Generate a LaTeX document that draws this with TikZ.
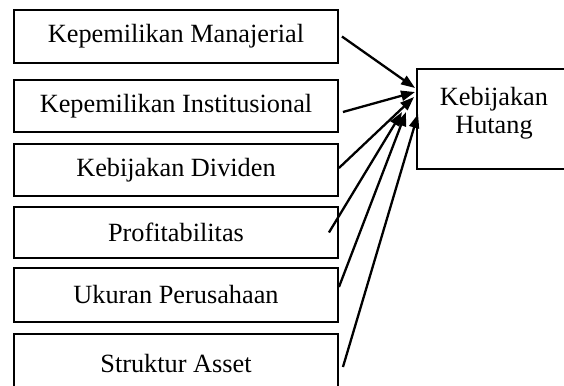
\documentclass[tikz,border=0pt]{standalone}
\usepackage{fontspec}
\setmainfont{Liberation Serif}
\usetikzlibrary{arrows.meta,calc}
\begin{document}
\begin{tikzpicture}[x=1pt,y=1pt,
  box/.style={draw,line width=1.9pt,rectangle,minimum width=324pt,inner sep=0pt,font=\fontsize{26.3}{28}\selectfont},
  conn/.style={line width=2.3pt,-{Triangle[length=14pt,width=10pt]}},
  lbl/.style={font=\fontsize{26.3}{28}\selectfont,align=center,inner sep=0pt}]
\useasboundingbox (0,0) rectangle (564,385);
% left boxes (image y: top-bottom)
\node[box,minimum height=53pt] (b1) at (176,{385-36.5}) {Kepemilikan Manajerial};
\node[box,minimum height=52pt] (b2) at (176,{385-106}) {Kepemilikan Institusional};
\node[box,minimum height=52pt] (b3) at (176,{385-170}) {Kebijakan Dividen};
\node[box,minimum height=51pt] (b4) at (176,{385-232.5}) {Profitabilitas};
\node[box,minimum height=54pt] (b5) at (176,{385-295}) {Ukuran Perusahaan};
\node[box,minimum height=62pt] (b6) at (176,{385-365}) {\raisebox{4pt}{Struktur Asset}};
% right box
\node[draw,line width=1.9pt,rectangle,minimum width=160pt,minimum height=100pt,inner sep=0pt] (hut) at (497,{385-119}) {};
\node[lbl] (hutl) at (494,{385-113}) {Kebijakan\\Hutang};
% arrow tips
\coordinate (t1) at ($(hut.west)+(-1,31)$);
\coordinate (t2) at ($(hut.west)+(-1,27)$);
\coordinate (t3) at ($(hut.west)+(-2,22)$);
\coordinate (t4) at ($(hut.west)+(-14,7)$);
\coordinate (t5) at ($(hut.west)+(-10,7)$);
\coordinate (t6) at ($(hut.west)+(2,5)$);
\draw[conn] ([xshift=3pt]b1.east) -- (t1);
\draw[conn] ([xshift=4pt,yshift=-6pt]b2.east) -- (t2);
\draw[conn] ([yshift=2pt]b3.east) -- (t3);
\draw[conn] ([xshift=-10pt]b4.east) -- (t4);
\draw[conn] ([yshift=8pt]b5.east) -- (t5);
\draw[conn] ([xshift=4pt,yshift=-2pt]b6.east) -- (t6);
\end{tikzpicture}
\end{document}
